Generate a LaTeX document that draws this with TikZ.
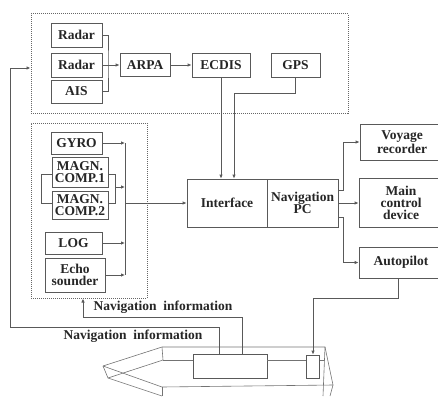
\documentclass[tikz,border=0pt]{standalone}
\usepackage{fontspec}
\setmainfont{Liberation Serif}
\usetikzlibrary{arrows.meta}

\begin{document}
\begin{tikzpicture}[x=1pt,y=-1pt,
    blk/.style={draw=black!65,fill=white,line width=.8pt,inner sep=0pt,align=center,
      font=\fontsize{13.5}{12}\selectfont\bfseries,text=black!85},
    grp/.style={draw=black!60,densely dotted,line width=1pt,inner sep=0pt},
    lbl/.style={font=\fontsize{13.5}{13.5}\selectfont\bfseries,text=black!85,inner sep=1pt},
    wire/.style={draw=black!65,line width=.8pt},
    hull/.style={draw=black!55,line width=.6pt},
    arr/.style={wire,-{Latex[length=4pt,width=3.5pt]}}]
    \useasboundingbox (0,0) rectangle (438,396);
    \clip (0,0) rectangle (438,396);
    % groups
    \node[grp,minimum width=317pt,minimum height=99pt] (topgrp) at (189.5,63.5) {};
    \node[grp,minimum width=116pt,minimum height=175pt] (botgrp) at (89,210.5) {};
    \draw[wire] (41,174) rectangle (115,203); % compass bracket
    % sensors
    \node[blk,minimum width=51pt,minimum height=24pt] (radarA) at (76.5,35) {Radar};
    \node[blk,minimum width=51pt,minimum height=24pt] (radarB) at (76.5,65) {Radar};
    \node[blk,minimum width=51pt,minimum height=23pt] (ais) at (76.5,91.5) {AIS};
    \node[blk,minimum width=50pt,minimum height=23pt] (arpa) at (145,65) {ARPA};
    \node[blk,minimum width=58pt,minimum height=24pt] (ecdis) at (221,65) {ECDIS};
    \node[blk,minimum width=49pt,minimum height=24pt] (gps) at (295.5,65) {GPS};
    \node[blk,minimum width=51pt,minimum height=22pt] (gyro) at (76.5,143) {GYRO};
    \node[blk,minimum width=56pt,minimum height=30pt] (magnA) at (80,172) {MAGN.\\COMP.1};
    \node[blk,minimum width=56pt,minimum height=28pt] (magnB) at (80,205) {MAGN.\\COMP.2};
    \node[blk,minimum width=57pt,minimum height=22pt] (log) at (73.5,243) {LOG};
    \node[blk,minimum width=60pt,minimum height=34pt] (echo) at (75,275) {Echo\\sounder};
    % computer
    \node[blk,minimum width=80pt,minimum height=48pt] (iface) at (227,203) {Interface};
    \node[blk,minimum width=71pt,minimum height=48pt] (navpc) at (302.5,203) {Navigation\\PC};
    % outputs
    \node[blk,minimum width=84pt,minimum height=36pt] (voyage) at (402,142) {Voyage\\recorder};
    \node[blk,minimum width=84pt,minimum height=49pt] (mainctl) at (401,203) {Main\\control\\device};
    \node[blk,minimum width=84pt,minimum height=31pt] (autopilot) at (401,262.5) {Autopilot};
    % ship
    \node[blk,minimum width=74pt,minimum height=24pt] (shipbox) at (230,366) {};
    \node[blk,minimum width=13pt,minimum height=23pt] (rudder) at (313,366.5) {};
    \draw[hull] (103,366) -- (162,347) -- (325,347) -- (333,385) -- (330,396);
    \draw[hull] (325,347) -- (323,396);
    \draw[hull] (103,366) -- (108,378) -- (162,396);
    \draw[hull] (103,366) -- (162,387) -- (333,385);
    \draw[hull] (108,378) -- (163,360) -- (162,347);
    \draw[hull] (162,387) -- (162,396);
    \coordinate (deckL) at (163,360);
    \draw[hull] (deckL) -- (deckL -| shipbox.west);
    \draw[hull] (shipbox.east |- deckL) -- (rudder.west |- deckL);
    \draw[hull] (rudder.east |- deckL) -- (324,360);
    % radar lines
    \coordinate (jn) at (108,65);
    \draw[wire] (radarA.east) -| (jn) |- (ais.east);
    \draw[arr] (radarB.east) -- (arpa.west);
    \draw[arr] (arpa) -- (ecdis);
    \draw[arr] (ecdis.south) -- (ecdis.south |- iface.north);
    \coordinate (gpsbend) at (234,93);
    \draw[arr] (gps.south) |- (gpsbend) -- (gpsbend |- iface.north);
    % sensor bus
    \coordinate (busT) at (125,143);
    \coordinate (busB) at (125,275);
    \coordinate (busM) at (125,203);
    \coordinate (magn) at (115,187);
    \draw[wire] (busT) -- (busB);
    \draw[arr] (gyro.east) -- (gyro.east -| busT);
    \draw[arr] (magn) -- (magn -| busT);
    \draw[arr] (log.east) -- (log.east -| busT);
    \draw[arr] (echo.east) -- (echo.east -| busT);
    \draw[arr] (busM) -- (iface.west);
    % outputs
    \draw[arr] ([yshift=13pt]navpc.east) -- ++(5,0) |- (voyage.west);
    \draw[arr] (navpc.east) -- (mainctl.west);
    \draw[arr] ([yshift=-14pt]navpc.east) -- ++(5,0) |- (autopilot.west);
    \coordinate (apbend) at (313,298);
    \draw[arr] ([xshift=-3pt]autopilot.south) |- (apbend) -- (rudder.north);
    % feedback from ship
    \coordinate (fbA) at (10,327);
    \coordinate (fbB) at (10,68);
    \draw[arr] ([xshift=-11pt]shipbox.north) |- (fbA) -- (fbB) -- (fbB -| topgrp.west);
    \coordinate (fbC) at (83,317);
    \draw[arr] ([xshift=12pt]shipbox.north) |- (fbC) -- (fbC |- botgrp.south);
    \node[lbl] (infoA) at (163,307) {Navigation\ \ information};
    \node[lbl] (infoB) at (133,336) {Navigation\ \ information};
\end{tikzpicture}
\end{document}
